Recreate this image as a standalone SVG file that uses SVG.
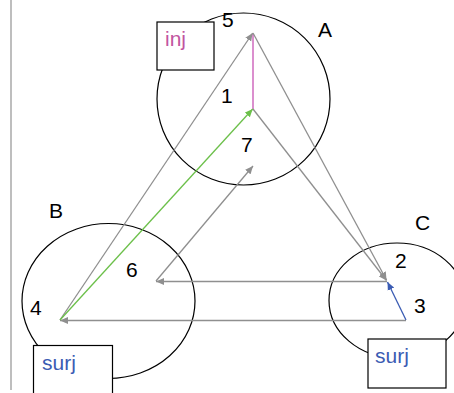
<svg xmlns="http://www.w3.org/2000/svg" width="454" height="393" viewBox="0 0 454 393">
  <style>
    .set { fill: none; stroke: #000; stroke-width: 1.2; }
    .box { fill: #fff; stroke: #000; stroke-width: 1.2; }
    .lbl { font-family: "Liberation Sans", Arial, sans-serif; font-size: 21px; fill: #000; }
    .tag { font-family: "Liberation Sans", Arial, sans-serif; font-size: 21px; }
    .gray { stroke: #8f8f8f; stroke-width: 1.3; fill: none; }
    .green { stroke: #6cc04a; stroke-width: 1.3; fill: none; }
    .blue { stroke: #3b5cb3; stroke-width: 1.3; fill: none; }
    .pink { stroke: #d273c2; stroke-width: 1.6; fill: none; }
  </style>
  <defs>
    <marker id="ah-gray" markerUnits="userSpaceOnUse" markerWidth="9" markerHeight="8" refX="8" refY="4" orient="auto">
      <path d="M0,0.5 L8,4 L0,7.5 z" fill="#8f8f8f"/>
    </marker>
    <marker id="ah-green" markerUnits="userSpaceOnUse" markerWidth="9" markerHeight="8" refX="8" refY="4" orient="auto">
      <path d="M0,0.5 L8,4 L0,7.5 z" fill="#6cc04a"/>
    </marker>
    <marker id="ah-blue" markerUnits="userSpaceOnUse" markerWidth="9" markerHeight="8" refX="8" refY="4" orient="auto">
      <path d="M0,0.5 L8,4 L0,7.5 z" fill="#3b5cb3"/>
    </marker>
  </defs>

  <rect width="454" height="393" fill="#fff"/>
  <!-- left margin rule -->
  <line x1="11" y1="0" x2="11" y2="390" stroke="#a8a8a8" stroke-width="1.5"/>

  <!-- set A -->
  <g id="setA">
    <ellipse class="set" cx="243.5" cy="99" rx="86.5" ry="86"/>
    <text class="lbl" x="318" y="37">A</text>
  </g>
  <!-- set B -->
  <g id="setB">
    <ellipse class="set" cx="108.5" cy="301" rx="86.5" ry="77.5"/>
    <text class="lbl" x="49" y="218">B</text>
  </g>
  <!-- set C -->
  <g id="setC">
    <ellipse class="set" cx="397" cy="300.5" rx="68" ry="57.5"/>
    <text class="lbl" x="415" y="230">C</text>
  </g>

  <!-- mappings -->
  <g id="connectors">
    <line class="pink" x1="253" y1="109" x2="253" y2="34"/>
    <line class="gray" x1="60" y1="320" x2="252.7" y2="33" marker-end="url(#ah-gray)"/>
    <line class="gray" x1="253" y1="33" x2="386.5" y2="280" marker-end="url(#ah-gray)"/>
    <line class="gray" x1="253" y1="109" x2="386.5" y2="280.5" marker-end="url(#ah-gray)"/>
    <line class="gray" x1="387" y1="281.5" x2="156" y2="281.5" marker-end="url(#ah-gray)"/>
    <line class="gray" x1="156" y1="281" x2="253" y2="166" marker-end="url(#ah-gray)"/>
    <line class="gray" x1="406" y1="320.5" x2="60" y2="320.5" marker-end="url(#ah-gray)"/>
    <line class="green" x1="60" y1="320" x2="252.7" y2="109" marker-end="url(#ah-green)"/>
    <line class="blue" x1="406" y1="320" x2="387.5" y2="282" marker-end="url(#ah-blue)"/>
  </g>

  <!-- elements -->
  <g id="e5"><text class="lbl" x="222" y="27">5</text></g>
  <g id="e1"><text class="lbl" x="221" y="103">1</text></g>
  <g id="e7"><text class="lbl" x="241" y="152">7</text></g>
  <g id="e6"><text class="lbl" x="126" y="277">6</text></g>
  <g id="e4"><text class="lbl" x="30" y="315">4</text></g>
  <g id="e2"><text class="lbl" x="395" y="268">2</text></g>
  <g id="e3"><text class="lbl" x="414" y="313">3</text></g>

  <!-- property tags -->
  <g id="tagInj">
    <rect class="box" x="157" y="22" width="57" height="48"/>
    <text class="tag" x="165" y="46" fill="#c2559f">inj</text>
  </g>
  <g id="tagSurjB">
    <rect class="box" x="33.5" y="345.5" width="79" height="60"/>
    <text class="tag" x="42" y="370" fill="#3b5cb3">surj</text>
  </g>
  <g id="tagSurjC">
    <rect class="box" x="368" y="339" width="78" height="49"/>
    <text class="tag" x="375" y="363" fill="#3b5cb3">surj</text>
  </g>
</svg>
